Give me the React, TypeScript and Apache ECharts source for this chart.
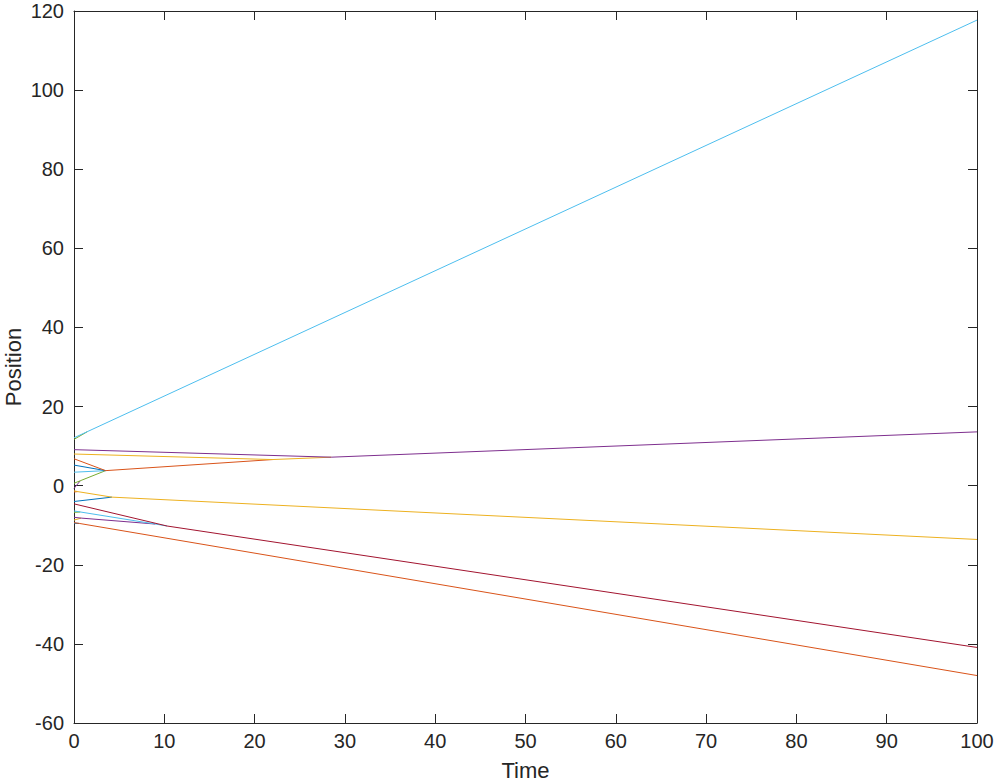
import React, { useEffect, useRef } from "react";
import * as echarts from "echarts";

// Particle trajectories: [time, position] breakpoints; a particle's line stops
// where it merges into a cluster drawn on top by a later particle.
const p01Blue = [[0, -9.5], [0.6, -9.55]];
const p02Orange = [[0, -9.35], [0.6, -9.55], [100, -48.0]];
const p03Yellow = [[0, -8.7], [0.8, -8.2]];
const p04Purple = [[0, -8.0], [0.8, -8.2], [9, -9.7]];
const p05Green = [[0, -6.75], [0.7, -6.65]];
const p06Cyan = [[0, -6.4], [0.7, -6.65], [9, -9.7], [10.3, -10.2]];
const p07Crimson = [[0, -4.6], [10.3, -10.2], [100, -40.9]];
const p08Blue = [[0, -4.0], [4.2, -2.9]];
const p09Orange = [[0, -1.6], [0.4, -1.5]];
const p10Yellow = [[0, -1.3], [0.4, -1.5], [4.2, -2.9], [100, -13.6]];
const p11Purple = [[0, -0.7], [0.7, 1.25]];
const p12Green = [[0, 0.6], [0.7, 1.25], [3.5, 3.8]];
const p13Cyan = [[0, 3.4], [3.5, 3.8]];
const p14Blue = [[0, 5.2], [3.5, 3.8]];
const p15Orange = [[0, 6.8], [3.5, 3.8], [22, 6.6]];
const p16Yellow = [[0, 8.0], [22, 6.6], [28.5, 7.2]];
const p17Purple = [[0, 9.1], [28.5, 7.2], [100, 13.6]];
const p18Green = [[0, 11.7], [1.5, 13.68]];
const p19Cyan = [[0, 12.1], [1.5, 13.68], [100, 117.7]];

const trajectories = [
  p01Blue, p02Orange, p03Yellow, p04Purple, p05Green, p06Cyan, p07Crimson,
  p08Blue, p09Orange, p10Yellow, p11Purple, p12Green, p13Cyan, p14Blue,
  p15Orange, p16Yellow, p17Purple, p18Green, p19Cyan,
];

const BLUE = "#0072BD";
const ORANGE = "#D95319";
const YELLOW = "#EDB120";
const PURPLE = "#7E2F8E";
const GREEN = "#77AC30";
const CYAN = "#4DBEEE";
const CRIMSON = "#A2142F";

const lineColors = [
  BLUE, ORANGE, YELLOW, PURPLE, GREEN, CYAN, CRIMSON,
  BLUE, ORANGE, YELLOW, PURPLE, GREEN, CYAN, BLUE,
  ORANGE, YELLOW, PURPLE, GREEN, CYAN,
];

const AX = "#262626";
const FONT = "Liberation Sans, Arial, Helvetica, sans-serif";

export default function App() {
  const ref = useRef<HTMLDivElement>(null);
  useEffect(() => {
    if (!ref.current) return;
    const chart = echarts.init(ref.current, undefined, { renderer: "svg" });
    const axisLine = { show: true, onZero: false, lineStyle: { color: AX, width: 1 } };
    const tick = { show: true, inside: true, length: 9, lineStyle: { color: AX, width: 1 } };
    const label = { color: AX, fontSize: 20, fontFamily: FONT };
    chart.setOption({
      animation: false,
      backgroundColor: "#ffffff",
      grid: {
        left: 74, top: 11, right: 20, bottom: 60,
        containLabel: false, outerBoundsMode: "none",
      },
      xAxis: [
        {
          type: "value", min: 0, max: 100, interval: 10,
          name: "Time", nameLocation: "middle", nameGap: 36, nameMoveOverlap: false,
          nameTextStyle: { color: AX, fontSize: 22, fontFamily: FONT },
          axisLine, axisTick: tick, axisLabel: { ...label, margin: 8 },
          splitLine: { show: false },
        },
        {
          type: "value", min: 0, max: 100, interval: 10, position: "top",
          axisLine, axisTick: tick, axisLabel: { show: false }, splitLine: { show: false },
        },
      ],
      yAxis: [
        {
          type: "value", min: -60, max: 120, interval: 20,
          name: "Position", nameLocation: "middle", nameGap: 50, nameMoveOverlap: false,
          nameTextStyle: { color: AX, fontSize: 22, fontFamily: FONT, lineHeight: 22 },
          axisLine, axisTick: tick, axisLabel: { ...label, margin: 10 },
          splitLine: { show: false },
        },
        {
          type: "value", min: -60, max: 120, interval: 20, position: "right",
          axisLine, axisTick: tick, axisLabel: { show: false }, splitLine: { show: false },
        },
      ],
      series: trajectories.map((pts, i) => ({
        type: "line",
        data: pts,
        xAxisIndex: 0,
        yAxisIndex: 0,
        showSymbol: false,
        symbol: "none",
        lineStyle: { color: lineColors[i], width: 1 },
        itemStyle: { color: lineColors[i] },
        z: 2 + i * 0.01,
      })),
    });
    return () => chart.dispose();
  }, []);
  return (
    <div
      ref={ref}
      style={{ position: "fixed", left: 0, top: 0, width: 997, height: 783 }}
    />
  );
}
